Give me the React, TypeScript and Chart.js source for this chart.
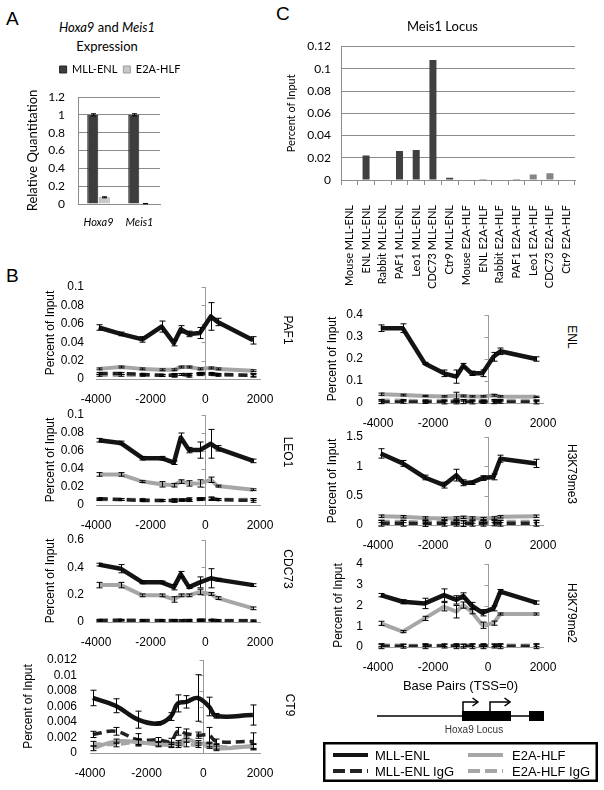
import React, { useEffect, useRef } from 'react';
import { Chart, registerables } from 'chart.js';

Chart.register(...registerables);

const ARIAL = "'Liberation Sans', Arial, sans-serif";
const CALIBRI = "Lato, 'Open Sans', sans-serif";

// ---------------- Panel A: expression ----------------
const expressionGenes = ['Hoxa9', 'Meis1'];
const expressionSeries = ['MLL-ENL', 'E2A-HLF'];
const expressionMllEnl = [1.0, 1.0];
const expressionMllEnlErr = [0.012, 0.012];
const expressionE2aHlf = [0.075, 0.004];
const expressionE2aHlfErr = [0.006, 0.002];
const expressionYTicks = [0, 0.2, 0.4, 0.6, 0.8, 1, 1.2];

// ---------------- Panel C: Meis1 locus ----------------
const meis1Categories = [
  'Mouse MLL-ENL', 'ENL MLL-ENL', 'Rabbit MLL-ENL', 'PAF1 MLL-ENL', 'Leo1 MLL-ENL', 'CDC73 MLL-ENL', 'Ctr9 MLL-ENL',
  'Mouse E2A-HLF', 'ENL E2A-HLF', 'Rabbit E2A-HLF', 'PAF1 E2A-HLF', 'Leo1 E2A-HLF', 'CDC73 E2A-HLF', 'Ctr9 E2A-HLF',
];
const meis1Values = [0, 0.022, 0, 0.026, 0.027, 0.108, 0.002, 0, 0.001, 0, 0.001, 0.005, 0.006, 0];
const meis1YTicks = [0, 0.02, 0.04, 0.06, 0.08, 0.1, 0.12];

// ---------------- Panel B: Hoxa9 locus ChIP ----------------
const chipPositions = [-3900, -3100, -2300, -1600, -1150, -900, -600, -200, 200, 450, 1750];
const chipXTicks = [-4000, -2000, 0, 2000];
const chipSeries = ['MLL-ENL', 'E2A-HLF', 'MLL-ENL IgG', 'E2A-HLF IgG'];

const paf1Mll = [0.056, 0.049, 0.043, 0.057, 0.039, 0.054, 0.049, 0.05, 0.068, 0.062, 0.042];
const paf1MllErr = [0.003, 0.002, 0.003, 0.006, 0.003, 0.004, 0.003, 0.006, 0.015, 0.004, 0.004];
const paf1E2a = [0.011, 0.013, 0.011, 0.01, 0.01, 0.013, 0.013, 0.011, 0.012, 0.011, 0.009];
const paf1E2aErr = [0.001, 0.001, 0.001, 0.001, 0.001, 0.001, 0.001, 0.001, 0.001, 0.001, 0.001];
const paf1MllIgG = [0.006, 0.006, 0.005, 0.004, 0.004, 0.005, 0.004, 0.006, 0.006, 0.005, 0.004];
const paf1MllIgGErr = [0.001, 0.001, 0.001, 0.001, 0.002, 0.001, 0.002, 0.001, 0.001, 0.001, 0.002];
const paf1E2aIgG = [0.004, 0.004, 0.004, 0.004, 0.004, 0.005, 0.005, 0.005, 0.005, 0.004, 0.004];
const paf1E2aIgGErr = [0.001, 0.001, 0.001, 0.001, 0.001, 0.001, 0.001, 0.001, 0.001, 0.001, 0.001];
const paf1YTicks = [0, 0.02, 0.04, 0.06, 0.08, 0.1];

const leo1Mll = [0.072, 0.069, 0.052, 0.052, 0.047, 0.075, 0.061, 0.061, 0.068, 0.063, 0.049];
const leo1MllErr = [0.002, 0.002, 0.002, 0.002, 0.002, 0.005, 0.003, 0.009, 0.016, 0.003, 0.002];
const leo1E2a = [0.034, 0.034, 0.026, 0.023, 0.022, 0.026, 0.024, 0.024, 0.028, 0.021, 0.017];
const leo1E2aErr = [0.002, 0.002, 0.001, 0.003, 0.002, 0.002, 0.003, 0.004, 0.003, 0.001, 0.001];
const leo1MllIgG = [0.007, 0.006, 0.005, 0.005, 0.005, 0.005, 0.006, 0.007, 0.007, 0.006, 0.005];
const leo1MllIgGErr = [0.001, 0.001, 0.001, 0.001, 0.002, 0.001, 0.002, 0.001, 0.002, 0.001, 0.002];
const leo1E2aIgG = [0.006, 0.006, 0.006, 0.005, 0.005, 0.006, 0.005, 0.006, 0.007, 0.006, 0.006];
const leo1E2aIgGErr = [0.001, 0.001, 0.001, 0.001, 0.001, 0.001, 0.001, 0.001, 0.001, 0.001, 0.001];
const leo1YTicks = [0, 0.02, 0.04, 0.06, 0.08, 0.1];

const cdc73Mll = [0.42, 0.39, 0.29, 0.29, 0.255, 0.35, 0.255, 0.29, 0.32, 0.31, 0.27];
const cdc73MllErr = [0.01, 0.03, 0.01, 0.01, 0.02, 0.02, 0.01, 0.04, 0.07, 0.01, 0.01];
const cdc73E2a = [0.27, 0.27, 0.195, 0.195, 0.165, 0.195, 0.195, 0.22, 0.205, 0.175, 0.1];
const cdc73E2aErr = [0.02, 0.02, 0.01, 0.01, 0.02, 0.01, 0.01, 0.02, 0.01, 0.01, 0.01];
const cdc73MllIgG = [0.01, 0.012, 0.01, 0.01, 0.01, 0.01, 0.01, 0.012, 0.012, 0.01, 0.008];
const cdc73MllIgGErr = [0.005, 0.005, 0.005, 0.005, 0.005, 0.005, 0.005, 0.005, 0.005, 0.005, 0.005];
const cdc73E2aIgG = [0.015, 0.015, 0.012, 0.012, 0.012, 0.012, 0.012, 0.015, 0.015, 0.012, 0.01];
const cdc73E2aIgGErr = [0.005, 0.005, 0.005, 0.005, 0.005, 0.005, 0.005, 0.005, 0.005, 0.005, 0.005];
const cdc73YTicks = [0, 0.2, 0.4, 0.6];

const ct9Mll = [0.0071, 0.0061, 0.0043, 0.0038, 0.0047, 0.0064, 0.0066, 0.0071, 0.006, 0.0048, 0.0049];
const ct9MllErr = [0.001, 0.0009, 0.0011, 0.0002, 0.0005, 0.0011, 0.0008, 0.003, 0.0012, 0.0003, 0.0013];
const ct9E2a = [0.0006, 0.0015, 0.0014, 0.0011, 0.0011, 0.0013, 0.0018, 0.0013, 0.0011, 0.0006, 0.0009];
const ct9E2aErr = [0.0003, 0.0003, 0.0004, 0.0003, 0.0003, 0.0003, 0.0004, 0.0003, 0.0003, 0.0003, 0.0003];
const ct9MllIgG = [0.0024, 0.0028, 0.0017, 0.0017, 0.0015, 0.0028, 0.0025, 0.0023, 0.0023, 0.0015, 0.0015];
const ct9MllIgGErr = [0.0004, 0.0005, 0.0008, 0.0003, 0.0004, 0.0005, 0.0006, 0.0004, 0.001, 0.0003, 0.0011];
const ct9E2aIgG = [0.0012, 0.0011, 0.0014, 0.0012, 0.001, 0.001, 0.0011, 0.001, 0.0009, 0.0008, 0.0008];
const ct9E2aIgGErr = [0.0003, 0.0003, 0.0003, 0.0003, 0.0003, 0.0003, 0.0003, 0.0003, 0.0003, 0.0003, 0.0003];
const ct9YTicks = [0, 0.002, 0.004, 0.006, 0.008, 0.01, 0.012];

const enlMll = [0.34, 0.34, 0.18, 0.135, 0.12, 0.17, 0.135, 0.135, 0.21, 0.235, 0.2];
const enlMllErr = [0.015, 0.02, 0.005, 0.015, 0.03, 0.01, 0.01, 0.015, 0.02, 0.015, 0.01];
const enlE2a = [0.04, 0.036, 0.032, 0.03, 0.034, 0.032, 0.03, 0.03, 0.035, 0.03, 0.028];
const enlE2aErr = [0.005, 0.004, 0.003, 0.003, 0.015, 0.004, 0.003, 0.003, 0.004, 0.003, 0.003];
const enlMllIgG = [0.005, 0.005, 0.004, 0.004, 0.004, 0.005, 0.004, 0.004, 0.005, 0.005, 0.004];
const enlMllIgGErr = [0.008, 0.006, 0.006, 0.008, 0.008, 0.008, 0.008, 0.006, 0.008, 0.006, 0.008];
const enlE2aIgG = [0.012, 0.012, 0.01, 0.01, 0.01, 0.012, 0.01, 0.01, 0.012, 0.012, 0.01];
const enlE2aIgGErr = [0.004, 0.004, 0.004, 0.004, 0.004, 0.004, 0.004, 0.004, 0.004, 0.004, 0.004];
const enlYTicks = [0, 0.1, 0.2, 0.3, 0.4];

const me3Mll = [1.22, 1.05, 0.81, 0.68, 0.85, 0.72, 0.72, 0.8, 0.82, 1.13, 1.05];
const me3MllErr = [0.08, 0.05, 0.04, 0.05, 0.1, 0.05, 0.03, 0.04, 0.05, 0.06, 0.07];
const me3E2a = [0.15, 0.14, 0.12, 0.11, 0.12, 0.13, 0.12, 0.11, 0.12, 0.14, 0.15];
const me3E2aErr = [0.02, 0.02, 0.02, 0.02, 0.02, 0.02, 0.02, 0.02, 0.02, 0.02, 0.02];
const me3MllIgG = [0.03, 0.03, 0.025, 0.03, 0.03, 0.025, 0.03, 0.03, 0.035, 0.03, 0.03];
const me3MllIgGErr = [0.05, 0.05, 0.05, 0.05, 0.05, 0.05, 0.05, 0.05, 0.05, 0.05, 0.05];
const me3E2aIgG = [0.06, 0.06, 0.05, 0.05, 0.06, 0.05, 0.05, 0.06, 0.06, 0.06, 0.06];
const me3E2aIgGErr = [0.02, 0.02, 0.02, 0.02, 0.02, 0.02, 0.02, 0.02, 0.02, 0.02, 0.02];
const me3YTicks = [0, 0.5, 1, 1.5];

const me2Mll = [2.5, 2.18, 2.1, 2.5, 2.27, 2.46, 2.0, 1.65, 1.86, 2.67, 2.14];
const me2MllErr = [0.08, 0.1, 0.25, 0.3, 0.2, 0.15, 0.15, 0.15, 0.12, 0.1, 0.08];
const me2E2a = [1.14, 0.74, 1.38, 1.94, 1.7, 2.02, 1.7, 1.05, 1.15, 1.59, 1.59];
const me2E2aErr = [0.1, 0.05, 0.1, 0.2, 0.3, 0.15, 0.1, 0.15, 0.1, 0.05, 0.05];
const me2MllIgG = [0.04, 0.04, 0.04, 0.05, 0.04, 0.04, 0.04, 0.04, 0.05, 0.04, 0.04];
const me2MllIgGErr = [0.12, 0.1, 0.12, 0.1, 0.12, 0.1, 0.12, 0.12, 0.1, 0.12, 0.12];
const me2E2aIgG = [0.08, 0.08, 0.07, 0.08, 0.07, 0.08, 0.08, 0.07, 0.08, 0.08, 0.08];
const me2E2aIgGErr = [0.05, 0.05, 0.05, 0.05, 0.05, 0.05, 0.05, 0.05, 0.05, 0.05, 0.05];
const me2YTicks = [0, 1, 2, 3, 4];

// ---------------- plugins ----------------
const errorBarPlugin = {
  id: 'errorBars',
  afterDatasetsDraw(chart: any) {
    const ctx = chart.ctx;
    chart.data.datasets.forEach((ds: any, i: number) => {
      const errs = ds.errors;
      if (!errs) return;
      const meta = chart.getDatasetMeta(i);
      const ys = chart.scales[meta.yAxisID];
      const cap = ds.errorCap ?? 3;
      ctx.save();
      ctx.strokeStyle = '#000';
      ctx.lineWidth = 1;
      meta.data.forEach((el: any, j: number) => {
        const e = errs[j];
        if (!e) return;
        const raw = ds.data[j];
        const v = typeof raw === 'number' ? raw : raw.y;
        const x = Math.round(el.x) + 0.5;
        const y1 = ys.getPixelForValue(v + e);
        const y2 = ys.getPixelForValue(v - e);
        ctx.beginPath();
        ctx.moveTo(x, y1);
        ctx.lineTo(x, y2);
        ctx.moveTo(x - cap, y1);
        ctx.lineTo(x + cap, y1);
        ctx.moveTo(x - cap, y2);
        ctx.lineTo(x + cap, y2);
        ctx.stroke();
      });
      ctx.restore();
    });
  },
};

const zeroAxisPlugin = {
  id: 'zeroAxis',
  beforeDatasetsDraw(chart: any) {
    const xs = chart.scales.x;
    const ys = chart.scales.y;
    const ctx = chart.ctx;
    const x0 = Math.round(xs.getPixelForValue(0)) + 0.5;
    ctx.save();
    ctx.strokeStyle = '#9a9a9a';
    ctx.lineWidth = 1;
    ctx.beginPath();
    ys.ticks.forEach((t: any) => {
      const y = Math.round(ys.getPixelForValue(t.value)) + 0.5;
      ctx.moveTo(x0 - 4, y);
      ctx.lineTo(x0, y);
    });
    ctx.stroke();
    ctx.restore();
  },
};

const fmt = (v: any) => String(Math.round(Number(v) * 100000) / 100000);

// ---------------- generic canvas ----------------
function ChartCanvas({ left, top, width, height, make }: any) {
  const ref = useRef<HTMLCanvasElement>(null);
  useEffect(() => {
    const chart = new Chart(ref.current as HTMLCanvasElement, make());
    return () => chart.destroy();
  }, []);
  return (
    <canvas
      ref={ref}
      width={width}
      height={height}
      style={{ position: 'absolute', left, top, width, height }}
    />
  );
}

// ---------------- Panel A config ----------------
const A = { left: 25, top: 58, right: 215, plotLeft: 78, plotRight: 160, plotBottom: 204, xAxisH: 32 };
function makeExpressionConfig(): any {
  return {
    type: 'bar',
    data: {
      labels: expressionGenes,
      datasets: [
        {
          label: expressionSeries[0], data: expressionMllEnl, errors: expressionMllEnlErr, errorCap: 2.5,
          backgroundColor: '#3d3d3d', borderColor: '#222222', borderWidth: 1, xAxisID: 'x', yAxisID: 'y',
        },
        {
          label: expressionSeries[1], data: expressionE2aHlf, errors: expressionE2aHlfErr, errorCap: 2.5,
          backgroundColor: '#c8c8c8', borderColor: '#9a9a9a', borderWidth: 1, xAxisID: 'x', yAxisID: 'y',
        },
      ],
    },
    options: {
      responsive: false, animation: false, events: [],
      layout: { padding: 0 },
      datasets: { bar: { categoryPercentage: 0.56, barPercentage: 0.96 } },
      plugins: {
        legend: {
          display: true, position: 'top',
          labels: { boxWidth: 7, boxHeight: 7, padding: 6, color: '#000', font: { family: CALIBRI, size: 11 } },
        },
        tooltip: { enabled: false },
      },
      scales: {
        x: {
          type: 'category', position: 'bottom',
          ticks: { padding: 12, color: '#000', font: { family: CALIBRI, size: 11, style: 'italic' } },
          grid: { display: false, drawTicks: false },
          border: { display: true, color: '#8c8c8c' },
          afterFit: (s: any) => { s.height = A.xAxisH; s.paddingLeft = 0; s.paddingRight = A.right - A.plotRight; s.paddingTop = 0; s.paddingBottom = 0; },
        },
        xTop: {
          type: 'linear', position: 'top', display: true,
          ticks: { display: false }, grid: { display: false, drawTicks: false }, border: { display: false },
          afterFit: (s: any) => { s.height = 12; s.paddingLeft = 0; s.paddingRight = 0; s.paddingTop = 0; s.paddingBottom = 0; },
        },
        y: {
          min: expressionYTicks[0], max: expressionYTicks[expressionYTicks.length - 1],
          ticks: { stepSize: expressionYTicks[1] - expressionYTicks[0], autoSkip: false, padding: 13, color: '#000', font: { family: CALIBRI, size: 12 }, callback: fmt },
          grid: { color: '#8c8c8c', drawTicks: false },
          border: { display: true, color: '#8c8c8c' },
          title: { display: true, text: 'Relative Quantitation', color: '#000', padding: 0, font: { family: CALIBRI, size: 13 } },
          afterFit: (s: any) => { s.width = A.plotLeft - A.left; s.paddingTop = 0; s.paddingBottom = 0; s.paddingLeft = 0; s.paddingRight = 0; },
        },
      },
    },
    plugins: [errorBarPlugin],
  };
}

// ---------------- Panel C config ----------------
const C = { left: 285, top: 10, right: 600, plotLeft: 341, plotRight: 575, plotBottom: 180, xAxisH: 110 };
function makeMeis1Config(): any {
  return {
    type: 'bar',
    data: {
      labels: meis1Categories,
      datasets: [
        {
          label: 'Percent of Input', data: meis1Values,
          backgroundColor: meis1Categories.map((c) => (c.indexOf('MLL') >= 0 ? '#404040' : '#858585')),
          barPercentage: 0.42, categoryPercentage: 1,
        },
      ],
    },
    options: {
      responsive: false, animation: false, events: [],
      layout: { padding: 0 },
      plugins: {
        legend: { display: false },
        tooltip: { enabled: false },
        title: {
          display: true, text: 'Meis1 Locus', color: '#000',
          font: { family: CALIBRI, size: 13, weight: 'normal' }, padding: { top: 9, bottom: 12 },
        },
      },
      scales: {
        x: {
          ticks: { autoSkip: false, minRotation: 90, maxRotation: 90, padding: 20, color: '#000', font: { family: CALIBRI, size: 11 } },
          grid: { display: true, drawOnChartArea: false, drawTicks: true, tickLength: 5, color: '#8c8c8c', offset: true },
          border: { display: true, color: '#8c8c8c' },
          afterFit: (s: any) => { s.height = C.xAxisH; s.paddingLeft = 0; s.paddingRight = C.right - C.plotRight; s.paddingTop = 0; s.paddingBottom = 0; },
        },
        y: {
          min: meis1YTicks[0], max: meis1YTicks[meis1YTicks.length - 1],
          ticks: { stepSize: meis1YTicks[1] - meis1YTicks[0], autoSkip: false, padding: 10, color: '#000', font: { family: CALIBRI, size: 12 }, callback: fmt },
          grid: { color: '#8c8c8c', drawTicks: false },
          border: { display: true, color: '#8c8c8c' },
          title: { display: true, text: 'Percent of Input', color: '#000', padding: 0, font: { family: CALIBRI, size: 11 } },
          afterFit: (s: any) => { s.width = C.plotLeft - C.left; s.paddingTop = 0; s.paddingBottom = 0; s.paddingLeft = 0; s.paddingRight = 0; },
        },
      },
    },
  };
}

// ---------------- Panel B configs ----------------
type Panel = {
  name: string; left: number; right: number; plotLeft: number; plotRight: number; plotTop: number; plotBottom: number;
  xAxisH: number; yPad: number; yTicks: number[]; tension: number; xTitle?: string;
  labelX: number; labelY: number;
  series: number[][]; errs: number[][];
};

const chipPanels: Panel[] = [
  { name: 'PAF1', left: 43, right: 282, plotLeft: 96, plotRight: 260, plotTop: 287, plotBottom: 379, xAxisH: 30, yPad: 12, yTicks: paf1YTicks, tension: 0, labelX: 288, labelY: 330,
    series: [paf1Mll, paf1E2a, paf1MllIgG, paf1E2aIgG], errs: [paf1MllErr, paf1E2aErr, paf1MllIgGErr, paf1E2aIgGErr] },
  { name: 'LEO1', left: 43, right: 282, plotLeft: 96, plotRight: 260, plotTop: 415, plotBottom: 505, xAxisH: 30, yPad: 12, yTicks: leo1YTicks, tension: 0, labelX: 288, labelY: 452,
    series: [leo1Mll, leo1E2a, leo1MllIgG, leo1E2aIgG], errs: [leo1MllErr, leo1E2aErr, leo1MllIgGErr, leo1E2aIgGErr] },
  { name: 'CDC73', left: 43, right: 282, plotLeft: 96, plotRight: 260, plotTop: 540, plotBottom: 622, xAxisH: 30, yPad: 12, yTicks: cdc73YTicks, tension: 0, labelX: 288, labelY: 569,
    series: [cdc73Mll, cdc73E2a, cdc73MllIgG, cdc73E2aIgG], errs: [cdc73MllErr, cdc73E2aErr, cdc73MllIgGErr, cdc73E2aIgGErr] },
  { name: 'CT9', left: 21, right: 282, plotLeft: 90, plotRight: 260, plotTop: 660, plotBottom: 753, xAxisH: 30, yPad: 13, yTicks: ct9YTicks, tension: 0.4, labelX: 290, labelY: 705,
    series: [ct9Mll, ct9E2a, ct9MllIgG, ct9E2aIgG], errs: [ct9MllErr, ct9E2aErr, ct9MllIgGErr, ct9E2aIgGErr] },
  { name: 'ENL', left: 325, right: 565, plotLeft: 378, plotRight: 543, plotTop: 315, plotBottom: 403, xAxisH: 30, yPad: 15, yTicks: enlYTicks, tension: 0, labelX: 572, labelY: 337,
    series: [enlMll, enlE2a, enlMllIgG, enlE2aIgG], errs: [enlMllErr, enlE2aErr, enlMllIgGErr, enlE2aIgGErr] },
  { name: 'H3K79me3', left: 325, right: 565, plotLeft: 378, plotRight: 543, plotTop: 437, plotBottom: 525, xAxisH: 30, yPad: 15, yTicks: me3YTicks, tension: 0, labelX: 572, labelY: 474,
    series: [me3Mll, me3E2a, me3MllIgG, me3E2aIgG], errs: [me3MllErr, me3E2aErr, me3MllIgGErr, me3E2aIgGErr] },
  { name: 'H3K79me2', left: 331, right: 565, plotLeft: 378, plotRight: 543, plotTop: 564, plotBottom: 647, xAxisH: 47, yPad: 15, yTicks: me2YTicks, tension: 0, labelX: 572, labelY: 613,
    xTitle: 'Base Pairs (TSS=0)',
    series: [me2Mll, me2E2a, me2MllIgG, me2E2aIgG], errs: [me2MllErr, me2E2aErr, me2MllIgGErr, me2E2aIgGErr] },
];

const seriesStyles = [
  { color: '#141414', width: 4.5, dash: [] as number[] },
  { color: '#a6a6a6', width: 4, dash: [] as number[] },
  { color: '#222222', width: 3.5, dash: [9, 5] },
  { color: '#a6a6a6', width: 3.5, dash: [9, 5] },
];

const PANEL_TOP_PAD = 8;

function makeChipConfig(p: Panel): any {
  const tickFont = { family: ARIAL, size: 12 };
  return {
    type: 'line',
    data: {
      datasets: p.series.map((vals, k) => ({
        label: chipSeries[k],
        data: chipPositions.map((x, i) => ({ x, y: vals[i] })),
        errors: p.errs[k],
        errorCap: 3,
        borderColor: seriesStyles[k].color,
        borderWidth: seriesStyles[k].width,
        borderDash: seriesStyles[k].dash,
        borderJoinStyle: 'round',
        pointRadius: 0,
        fill: false,
        tension: p.tension,
      })),
    },
    options: {
      responsive: false, animation: false, events: [],
      layout: { padding: 0 },
      plugins: { legend: { display: false }, tooltip: { enabled: false } },
      scales: {
        x: {
          type: 'linear', min: chipXTicks[0], max: chipXTicks[chipXTicks.length - 1],
          ticks: { stepSize: chipXTicks[1] - chipXTicks[0], autoSkip: false, padding: 13, color: '#000', font: tickFont, callback: (v: any) => String(v) },
          grid: {
            drawTicks: false, lineWidth: 1,
            color: (c: any) => (c.tick && c.tick.value === 0 ? '#9a9a9a' : 'rgba(0,0,0,0)'),
          },
          border: { display: true, color: '#9a9a9a' },
          title: p.xTitle
            ? { display: true, text: p.xTitle, color: '#000', padding: 0, font: { family: ARIAL, size: 13 } }
            : { display: false },
          afterFit: (s: any) => { s.height = p.xAxisH; s.paddingLeft = 0; s.paddingRight = p.right - p.plotRight; s.paddingTop = 0; s.paddingBottom = 0; },
        },
        y: {
          min: p.yTicks[0], max: p.yTicks[p.yTicks.length - 1],
          ticks: { stepSize: p.yTicks[1] - p.yTicks[0], autoSkip: false, padding: p.yPad, color: '#000', font: tickFont, callback: fmt },
          grid: { display: false, drawTicks: false },
          border: { display: false },
          title: { display: true, text: 'Percent of Input', color: '#000', padding: 0, font: { family: ARIAL, size: 12 } },
          afterFit: (s: any) => { s.width = p.plotLeft - p.left; s.paddingTop = PANEL_TOP_PAD; s.paddingBottom = 0; s.paddingLeft = 0; s.paddingRight = 0; },
        },
      },
    },
    plugins: [zeroAxisPlugin, errorBarPlugin],
  };
}

const letterStyle: any = { position: 'absolute', fontFamily: ARIAL, fontSize: 19, color: '#000', lineHeight: '20px' };

export default function App() {
  return (
    <div style={{ position: 'absolute', left: 0, top: 0, width: 604, height: 790, background: '#fff', overflow: 'hidden' }}>
      {/* Panel letters */}
      <div style={{ ...letterStyle, left: 6, top: 9 }}>A</div>
      <div style={{ ...letterStyle, left: 6, top: 266 }}>B</div>
      <div style={{ ...letterStyle, left: 276, top: 4 }}>C</div>

      {/* Panel A title */}
      <div style={{ position: 'absolute', left: 37, width: 140, top: 18, textAlign: 'center', fontFamily: CALIBRI, fontSize: 13, lineHeight: '19px', color: '#000' }}>
        <i>Hoxa9</i> and <i>Meis1</i>
        <br />
        Expression
      </div>

      <ChartCanvas left={A.left} top={A.top} width={A.right - A.left} height={A.plotBottom + A.xAxisH - A.top} make={makeExpressionConfig} />
      <ChartCanvas left={C.left} top={C.top} width={C.right - C.left} height={C.plotBottom + C.xAxisH - C.top} make={makeMeis1Config} />

      {chipPanels.map((p) => (
        <ChartCanvas
          key={p.name}
          left={p.left}
          top={p.plotTop - PANEL_TOP_PAD}
          width={p.right - p.left}
          height={p.plotBottom + p.xAxisH - (p.plotTop - PANEL_TOP_PAD)}
          make={() => makeChipConfig(p)}
        />
      ))}

      {chipPanels.map((p) => (
        <div
          key={'lbl' + p.name}
          style={{
            position: 'absolute', left: p.labelX, top: p.labelY, transform: 'translate(-50%, -50%)',
            writingMode: 'vertical-rl', fontFamily: ARIAL, fontSize: 12, color: '#000', whiteSpace: 'nowrap', lineHeight: '14px',
          }}
        >
          {p.name}
        </div>
      ))}

      {/* Hoxa9 locus schematic and shared legend */}
      <svg width={604} height={790} style={{ position: 'absolute', left: 0, top: 0, pointerEvents: 'none' }}>
        <line x1={377} y1={716} x2={530} y2={716} stroke="#000" strokeWidth={1.5} />
        <rect x={462} y={711} width={49} height={10} fill="#000" />
        <rect x={529} y={711} width={15} height={10} fill="#000" />
        <path d="M463 711 V702 H477" stroke="#000" strokeWidth={1.5} fill="none" />
        <path d="M472.5 698 L478 702 L472.5 706" stroke="#000" strokeWidth={1.5} fill="none" />
        <path d="M490 711 V702 H509" stroke="#000" strokeWidth={1.5} fill="none" />
        <path d="M504.5 698 L510 702 L504.5 706" stroke="#000" strokeWidth={1.5} fill="none" />
        <text x={474} y={733} textAnchor="middle" fontFamily={ARIAL} fontSize={10} fill="#333">Hoxa9 Locus</text>

        <rect x={324.25} y={743.25} width={272.5} height={37.5} fill="none" stroke="#000" strokeWidth={2.5} />
        <line x1={333} y1={755} x2={368} y2={755} stroke="#141414" strokeWidth={4} />
        <text x={375} y={759.5} fontFamily={ARIAL} fontSize={13} fill="#000">{chipSeries[0]}</text>
        <line x1={468} y1={755} x2={503} y2={755} stroke="#a6a6a6" strokeWidth={4} />
        <text x={512} y={759.5} fontFamily={ARIAL} fontSize={13} fill="#000">{chipSeries[1]}</text>
        <line x1={333} y1={771} x2={368} y2={771} stroke="#222" strokeWidth={4} strokeDasharray="12 5" />
        <text x={375} y={775.5} fontFamily={ARIAL} fontSize={13} fill="#000">{chipSeries[2]}</text>
        <line x1={468} y1={771} x2={503} y2={771} stroke="#a6a6a6" strokeWidth={4} strokeDasharray="12 5" />
        <text x={512} y={775.5} fontFamily={ARIAL} fontSize={13} fill="#000">{chipSeries[3]}</text>
      </svg>
    </div>
  );
}
